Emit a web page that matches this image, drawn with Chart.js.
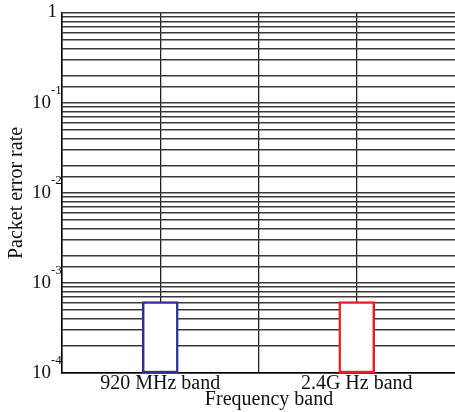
<!DOCTYPE html>
<html>
<head>
<meta charset="utf-8">
<script src="https://cdn.jsdelivr.net/npm/chart.js@4/dist/chart.umd.min.js"></script>
<style>
  html, body { margin: 0; padding: 0; background: #fff; overflow: hidden; }
  #wrap { width: 455px; height: 412px; }
</style>
</head>
<body>
<div id="wrap"><canvas id="myChart"></canvas></div>
<script>
const bands = ['920 MHz band', '2.4G Hz band']
const errorRates = [6.2e-4, 6.2e-4]
const barColors = ['#2e3192', '#ed1c24']
const decadeTicks = [1e-4, 1e-3, 1e-2, 1e-1, 1]
const yTitle = 'Packet error rate'
const xTitle = 'Frequency band'

const serif = '"Liberation Serif", "Times New Roman", serif'

// axis texts drawn by hand so the 10^n labels get real superscripts
const textPlugin = {
  id: 'texts',
  afterDraw(chart) {
    const c = chart.ctx
    const y = chart.scales.y
    const x = chart.scales.x
    const area = chart.chartArea
    c.save()
    c.fillStyle = '#111'
    c.textBaseline = 'middle'
    decadeTicks.forEach(v => {
      const py = y.getPixelForValue(v)
      const exp = Math.round(Math.log10(v))
      if (exp === 0) {
        c.font = '19px ' + serif
        c.textAlign = 'right'
        c.fillText('1', 57, py - 1)
      } else {
        c.font = '19px ' + serif
        c.textAlign = 'right'
        c.fillText('10', 51, py)
        c.font = '13px ' + serif
        c.textAlign = 'left'
        c.fillText(String(exp), 51, py - 12)
      }
    })
    c.font = '20px ' + serif
    c.textAlign = 'center'
    bands.forEach((b, i) => {
      c.fillText(b, x.getPixelForValue(i), area.bottom + 11)
    })
    c.fillText(xTitle, 269, area.bottom + 27)
    c.translate(17, (area.top + area.bottom) / 2)
    c.rotate(-Math.PI / 2)
    c.fillText(yTitle, 0, 0)
    c.restore()
  }
}

const ctx = document.querySelector('#myChart')
new Chart(ctx, {
  type: 'bar',
  data: {
    labels: bands,
    datasets: [{
      data: errorRates,
      backgroundColor: '#ffffff',
      borderColor: barColors,
      borderWidth: 2.5,
      borderSkipped: false,
      barThickness: 36
    }]
  },
  options: {
    responsive: true,
    maintainAspectRatio: false,
    animation: false,
    layout: { padding: { left: 62, top: 13, right: 0, bottom: 39 } },
    plugins: {
      legend: { display: false },
      tooltip: { enabled: false }
    },
    scales: {
      x: {
        offset: true,
        grid: { offset: false, color: '#222', lineWidth: 1.3, drawTicks: false },
        border: { display: true, color: '#000', width: 1.5 },
        ticks: { display: false }
      },
      x2: {
        type: 'category',
        labels: bands,
        position: 'bottom',
        offset: true,
        grid: {
          offset: true,
          // no closing line on the right edge
          color: c => (c.tick === undefined ? 'rgba(0,0,0,0)' : '#222'),
          lineWidth: 1.3,
          drawTicks: false
        },
        border: { display: false },
        ticks: { display: false }
      },
      y: {
        type: 'logarithmic',
        min: 1e-4,
        max: 1,
        grid: { color: '#3a3a3a', lineWidth: 1.4, drawTicks: false },
        border: { display: true, color: '#000', width: 1.5 },
        ticks: { display: false, autoSkip: false }
      }
    }
  },
  plugins: [textPlugin]
})
</script>
</body>
</html>
